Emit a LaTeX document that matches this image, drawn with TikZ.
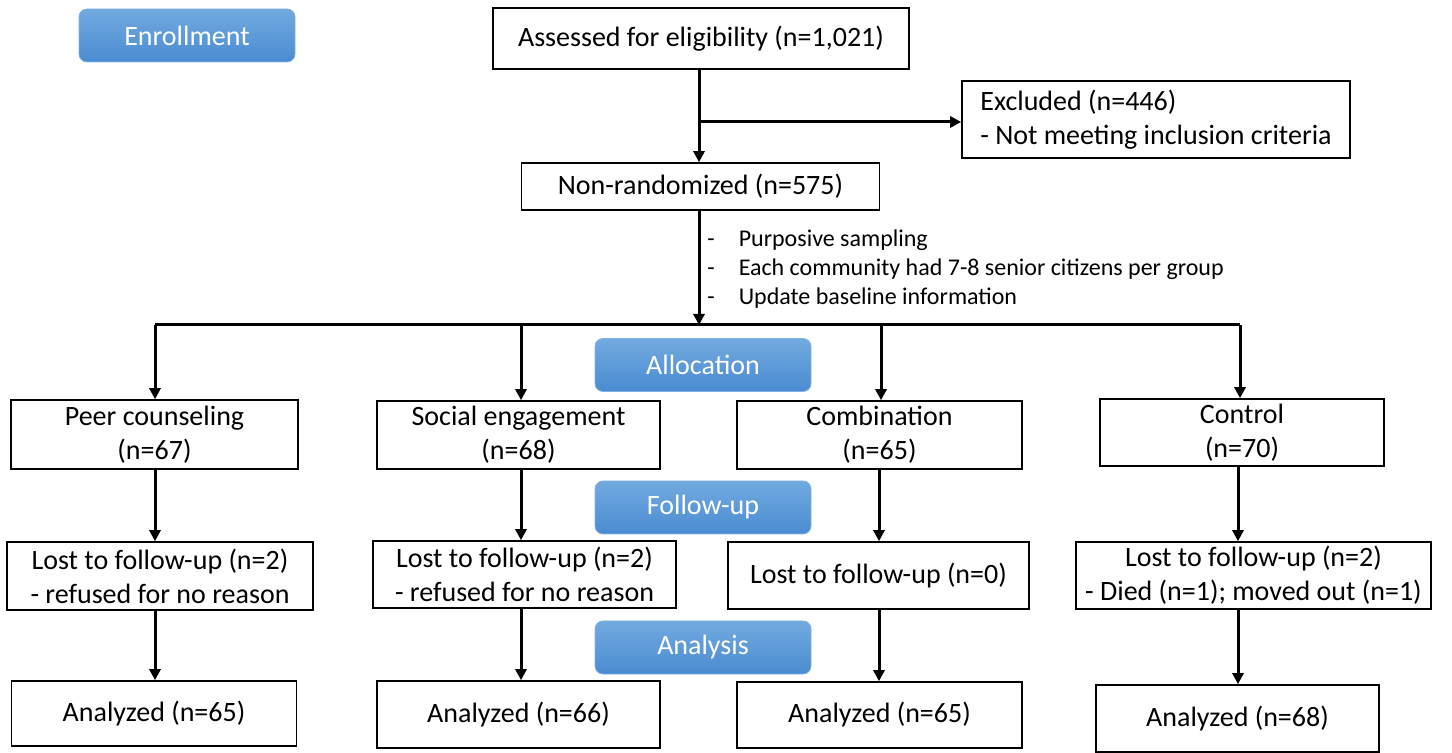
\documentclass[tikz,border=0pt]{standalone}
\usepackage{fontspec}
\setmainfont{Carlito}
\usetikzlibrary{arrows.meta}
\definecolor{badgetop}{HTML}{72AADF}
\definecolor{badgebot}{HTML}{4A8BD1}
\definecolor{badgeline}{HTML}{7FB2E2}
\tikzset{
  box/.style={draw=black, line width=0.8pt, fill=white, align=center, inner sep=2pt,
    font=\fontsize{14}{17}\selectfont},
  badge/.style={rounded corners=4pt, top color=badgetop, bottom color=badgebot, draw=badgeline,
    line width=0.4pt, text=white, minimum width=108pt, minimum height=26.5pt,
    font=\fontsize{14}{17}\selectfont},
  arr/.style={line width=1.5pt, -{Triangle[length=5.5pt,width=5.5pt]}},
  conn/.style={line width=1.5pt},
}
\begin{document}
\begin{tikzpicture}[x=0.5pt, y=-0.5pt]
\useasboundingbox (0,0) rectangle (1452,753);
% badges
\node[badge] (enr) at (187,35.5) {Enrollment};
\node[badge] (alloc) at (703,365) {Allocation};
\node[badge] (fu) at (703,507.5) {Follow-up};
\node[badge] (ana) at (703,647.5) {Analysis};
% enrollment
\node[box, minimum width=208pt, minimum height=30.5pt] (assess) at (701,38.5) {Assessed for eligibility (n=1,021)};
\node[box, minimum width=194pt, minimum height=38.5pt, align=left] (excl) at (1156,119.5) {Excluded (n=446)\\- Not meeting inclusion criteria};
\node[box, minimum width=179pt, minimum height=23.5pt] (nonrand) at (700.5,186.5) {Non-randomized (n=575)};
\node[anchor=north west, inner sep=0pt, font=\fontsize{12}{14.5}\selectfont, align=left] (notes) at (707,226)
 {\begin{tabular}{@{}l@{\hspace{12pt}}l@{}}
 - & Purposive sampling\\
 - & Each community had 7-8 senior citizens per group\\
 - & Update baseline information
 \end{tabular}};
\coordinate (br) at (699,122);
\coordinate (hl) at (155,325);
\coordinate (hr) at (1240,325);
\coordinate (c2) at (521,325);
\coordinate (c3) at (881,325);
\coordinate (d3) at (879,325);
\coordinate (d4) at (1238,325);
% groups
\node[box, minimum width=143.5pt, minimum height=34.5pt] (peer) at (154.5,434.5) {Peer counseling\\(n=67)};
\node[box, minimum width=141.5pt, minimum height=34pt] (soc) at (518.5,435) {Social engagement\\(n=68)};
\node[box, minimum width=142.5pt, minimum height=34pt] (comb) at (879.5,435) {Combination\\(n=65)};
\node[box, minimum width=142pt, minimum height=33.5pt] (ctrl) at (1242,432.5) {Control\\(n=70)};
% lost
\node[box, minimum width=153pt, minimum height=34pt] (lost1) at (160,576) {Lost to follow-up (n=2)\\- refused for no reason};
\node[box, minimum width=151.5pt, minimum height=33.5pt] (lost2) at (524.5,574.5) {Lost to follow-up (n=2)\\- refused for no reason};
\node[box, minimum width=150.5pt, minimum height=33.5pt] (lost3) at (878.5,575.5) {Lost to follow-up (n=0)};
\node[box, minimum width=177.5pt, minimum height=33.5pt] (lost4) at (1253.5,575.5) {Lost to follow-up (n=2)\\- Died (n=1); moved out (n=1)};
% analyzed
\node[box, minimum width=142.5pt, minimum height=32.5pt] (an1) at (154,713.5) {Analyzed (n=65)};
\node[box, minimum width=141.5pt, minimum height=33.5pt] (an2) at (518.5,714.5) {Analyzed (n=66)};
\node[box, minimum width=142.5pt, minimum height=33pt] (an3) at (879.5,715) {Analyzed (n=65)};
\node[box, minimum width=141.5pt, minimum height=33.5pt] (an4) at (1237.5,718.5) {Analyzed (n=68)};
% connectors
\draw[arr] (assess.south -| br) -- (nonrand.north -| br);
\draw[arr] (br) -- (br -| excl.west);
\draw[arr] (nonrand.south -| br) -- (br |- hl);
\draw[conn] (hl) -- (hr);
\draw[arr] (hl) -- (hl |- peer.north);
\draw[arr] (c2) -- (c2 |- soc.north);
\draw[arr] (c3) -- (c3 |- comb.north);
\draw[arr] (hr) -- (hr |- ctrl.north);
\draw[arr] (peer.south -| hl) -- (hl |- lost1.north);
\draw[arr] (soc.south -| c2) -- (c2 |- lost2.north);
\draw[arr] (comb.south -| d3) -- (d3 |- lost3.north);
\draw[arr] (ctrl.south -| d4) -- (d4 |- lost4.north);
\draw[arr] (lost1.south -| hl) -- (hl |- an1.north);
\draw[arr] (lost2.south -| c2) -- (c2 |- an2.north);
\draw[arr] (lost3.south -| d3) -- (d3 |- an3.north);
\draw[arr] (lost4.south -| d4) -- (d4 |- an4.north);
\end{tikzpicture}
\end{document}
